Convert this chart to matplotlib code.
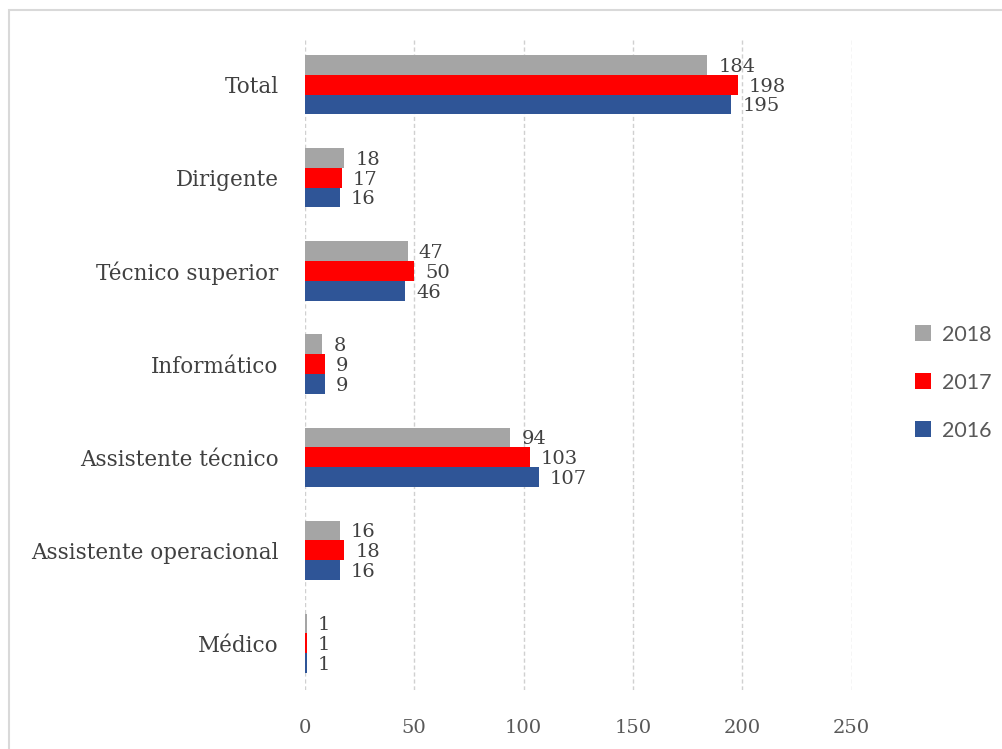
import numpy as np
import matplotlib.pyplot as plt
from matplotlib.patches import Rectangle

# --- Data -----------------------------------------------------------------

categories = ["Médico", "Assistente operacional", "Assistente técnico",
              "Informático", "Técnico superior", "Dirigente", "Total"]
years = ["2016", "2017", "2018"]
v2016 = [1, 16, 107, 9, 46, 16, 195]
v2017 = [1, 18, 103, 9, 50, 17, 198]
v2018 = [1, 16, 94, 8, 47, 18, 184]
x_ticks = [0, 50, 100, 150, 200, 250]

COLORS = {"2016": "#2F5597", "2017": "#FF0000", "2018": "#A5A5A5"}
SERIF = "DejaVu Serif"

# --------------------------------------------------------------------------

fig = plt.figure(figsize=(10.03, 7.49), dpi=100, facecolor="white")
ax = fig.add_axes([0.304, 0.079, 0.545, 0.870])

y = np.arange(len(categories))
h = 0.212
series = {"2016": v2016, "2017": v2017, "2018": v2018}
offsets = {"2016": -h, "2017": 0.0, "2018": h}

for yr in years:
    vals = series[yr]
    bars = ax.barh(y + offsets[yr], vals, height=h, color=COLORS[yr],
                   label=yr, zorder=3)
    for b, v in zip(bars, vals):
        ax.text(b.get_width() + 5, b.get_y() + h / 2 - 0.02, str(v),
                va="center", ha="left", fontsize=14, family=SERIF,
                color="#404040")

ax.set_xlim(0, 250)
ax.set_ylim(-0.5, len(categories) - 0.5)
ax.set_xticks(x_ticks)
ax.set_xticklabels([str(t) for t in x_ticks], family=SERIF, fontsize=14,
                   color="#595959")
ax.set_yticks(y)
ax.set_yticklabels(categories, family=SERIF, fontsize=15.5, color="#404040")
ax.tick_params(length=0)
ax.tick_params(axis="x", pad=21)
ax.tick_params(axis="y", pad=19)

ax.grid(axis="x", color="#D0D0D0", linestyle=(0, (3, 2)), linewidth=1,
        zorder=0)
for s in ax.spines.values():
    s.set_visible(False)

handles, labels = ax.get_legend_handles_labels()
fig.legend(handles[::-1], labels[::-1], loc="center left",
           bbox_to_anchor=(0.893, 0.489), frameon=False,
           prop={"family": "Lato", "size": 15.5},
           handlelength=0.75, handleheight=0.75, handletextpad=0.5,
           labelspacing=1.3, labelcolor="#595959")

# light frame around the chart
fig.patches.append(Rectangle((0.009, -0.01), 1.1, 0.997,
                             transform=fig.transFigure, fill=False,
                             edgecolor="#D9D9D9", linewidth=1.5))

plt.savefig("out.png", dpi=100, facecolor="white")
